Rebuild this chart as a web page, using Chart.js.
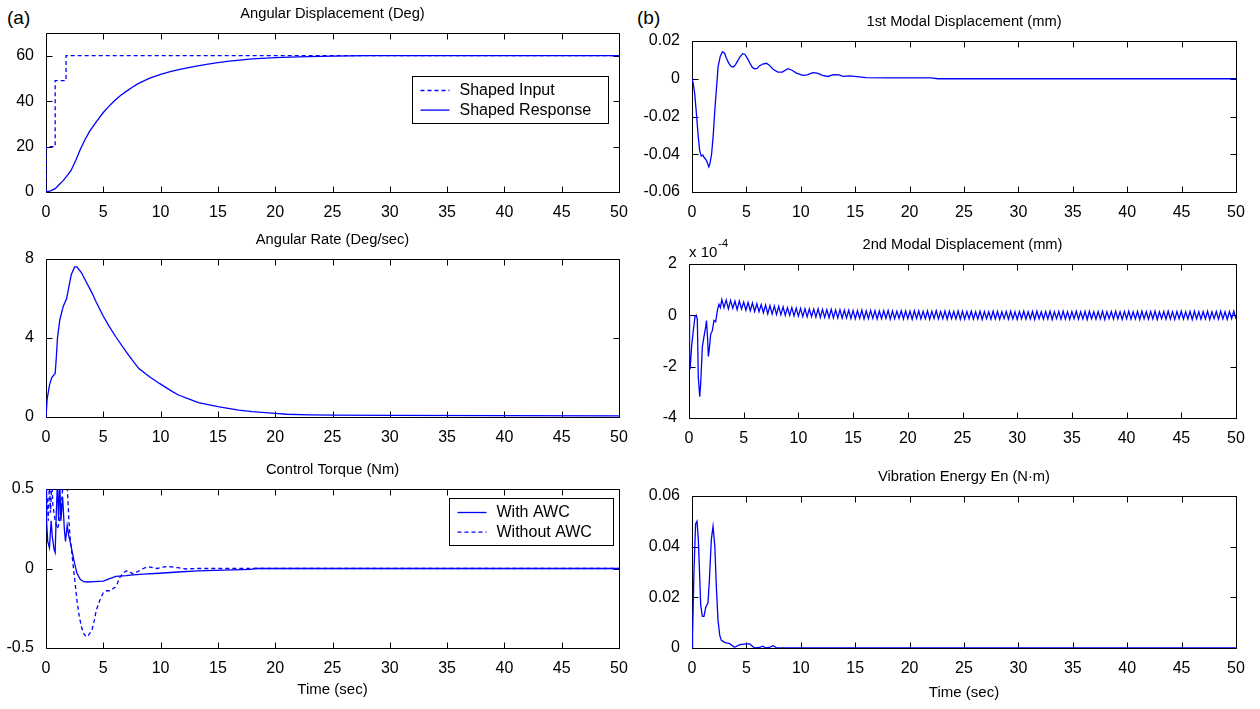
<!DOCTYPE html>
<html>
<head>
<meta charset="utf-8">
<title>Shaped response with and without AWC</title>
<script src="https://cdn.jsdelivr.net/npm/chart.js@4.4.0/dist/chart.umd.min.js"></script>
<style>
  body { margin: 0; background: #fff; width: 1260px; height: 709px; position: relative; overflow: hidden; font-family: "Liberation Sans", Arial, sans-serif; }
  canvas { position: absolute; }
  .tag { position: absolute; font-size: 19px; color: #000; line-height: 22px; }
</style>
</head>
<body>
<div class="tag" style="left:7px;top:7px">(a)</div>
<div class="tag" style="left:637px;top:7px">(b)</div>
<canvas id="dispChart"></canvas>
<canvas id="rateChart"></canvas>
<canvas id="torqueChart"></canvas>
<canvas id="modal1Chart"></canvas>
<canvas id="modal2Chart"></canvas>
<canvas id="energyChart"></canvas>
<script>
// Data
const timeTicks = [0, 5, 10, 15, 20, 25, 30, 35, 40, 45, 50];

// angular displacement (deg)
const dispTicks = [0, 20, 40, 60];
const inputT = [0, 0, 0.8, 0.8, 1.75, 1.75, 50];
const inputV = [0, 20, 20, 49, 49, 60, 60];
const respT = [0, 0.4, 0.8, 1.2, 1.5, 1.9, 2.2, 2.6, 3, 3.4, 3.8, 4.4, 5, 5.5, 6, 6.5, 7, 7.5, 8, 9, 10, 11, 12, 13, 14, 15, 16, 18, 20, 22, 25, 28, 50];
const respV = [0, 0.5, 1.5, 3.5, 5, 7.5, 9.6, 14, 18.8, 23, 26.7, 31, 35, 37.8, 40.3, 42.5, 44.3, 46, 47.6, 50, 51.8, 53.2, 54.3, 55.3, 56.2, 57, 57.6, 58.6, 59.2, 59.5, 59.8, 60, 60];

// angular rate (deg/sec)
const rateTicks = [0, 4, 8];
const rateT = [0, 0.1, 0.3, 0.5, 0.8, 0.9, 1.0, 1.2, 1.5, 1.8, 2.0, 2.2, 2.5, 2.7, 3.1, 3.5, 4.0, 4.4, 5.0, 5.5, 6.1, 7.0, 7.5, 8.1, 9.0, 9.9, 11, 11.6, 12.5, 13.3, 15, 16.8, 18, 20, 21, 23, 25, 30, 50];
const rateV = [0, 0.9, 1.6, 2.0, 2.2, 3.0, 4.0, 4.9, 5.6, 6.0, 6.6, 7.2, 7.6, 7.6, 7.3, 6.85, 6.3, 5.8, 5.1, 4.6, 4.05, 3.3, 2.9, 2.45, 2.05, 1.7, 1.3, 1.1, 0.9, 0.73, 0.52, 0.35, 0.27, 0.18, 0.14, 0.11, 0.1, 0.08, 0.06];

// control torque (Nm)
const torqueTicks = [-0.5, 0, 0.5];
const awcT = [0, 0.05, 0.15, 0.3, 0.45, 0.55, 0.7, 0.8, 0.9, 1.0, 1.1, 1.2, 1.3, 1.45, 1.6, 1.7, 1.85, 2.0, 2.1, 2.3, 2.5, 2.7, 3.0, 3.3, 3.6, 4.2, 5.0, 5.5, 6.1, 7.0, 7.6, 8.5, 9.9, 11.5, 13.3, 15.5, 17.9, 18.2, 50];
const awcV = [0.5, 0.3, 0.17, 0.13, 0.3, 0.2, 0.12, 0.1, 0.35, 0.55, 0.3, 0.55, 0.3, 0.45, 0.25, 0.17, 0.27, 0.2, 0.17, 0.1, 0.03, -0.03, -0.07, -0.083, -0.085, -0.082, -0.08, -0.065, -0.05, -0.045, -0.04, -0.035, -0.03, -0.022, -0.015, -0.01, -0.005, 0, 0];
const noAwcT = [0, 0.05, 0.1, 0.2, 0.3, 0.4, 0.5, 0.6, 0.8, 1.0, 1.2, 1.4, 1.5, 1.6, 1.8, 1.9, 2.0, 2.1, 2.25, 2.4, 2.7, 2.9, 3.1, 3.3, 3.5, 3.7, 4.0, 4.2, 4.4, 4.7, 5.0, 5.3, 5.6, 6.0, 6.2, 6.4, 6.7, 7.0, 7.3, 7.6, 8.0, 8.5, 8.9, 9.3, 9.7, 10.2, 10.6, 11.0, 11.5, 12.2, 13, 15, 18, 50];
const noAwcV = [0.55, 0.35, 0.45, 0.3, 0.55, 0.35, 0.55, 0.4, 0.3, 0.25, 0.3, 0.45, 0.55, 0.6, 0.55, 0.45, 0.3, 0.2, 0.1, 0.0, -0.2, -0.3, -0.37, -0.41, -0.43, -0.42, -0.39, -0.33, -0.26, -0.2, -0.15, -0.14, -0.14, -0.12, -0.1, -0.06, -0.03, -0.015, -0.02, -0.035, -0.02, 0, 0.012, 0.005, 0, 0.008, 0.012, 0.01, 0.005, -0.003, 0, 0, 0, 0];

// 1st modal displacement (mm)
const modal1Ticks = [-0.06, -0.04, -0.02, 0, 0.02];
const modal1T = [0, 0.1, 0.25, 0.4, 0.55, 0.7, 0.85, 1.0, 1.15, 1.3, 1.45, 1.55, 1.65, 1.8, 1.95, 2.1, 2.25, 2.4, 2.6, 2.8, 3.0, 3.15, 3.4, 3.6, 3.8, 4.0, 4.2, 4.4, 4.65, 4.85, 5.1, 5.3, 5.55, 5.75, 6.0, 6.2, 6.5, 6.85, 7.1, 7.45, 7.9, 8.3, 8.8, 9.2, 9.6, 10.2, 10.6, 11.1, 11.5, 12.0, 12.5, 13.0, 13.5, 13.9, 14.5, 16, 18, 22, 22.6, 50];
const modal1V = [0, -0.002, -0.008, -0.018, -0.029, -0.038, -0.041, -0.0405, -0.042, -0.043, -0.045, -0.0466, -0.045, -0.04, -0.03, -0.0165, -0.005, 0.0064, 0.012, 0.0143, 0.0135, 0.011, 0.008, 0.0065, 0.0062, 0.0075, 0.0095, 0.0115, 0.0133, 0.013, 0.0108, 0.0085, 0.006, 0.0053, 0.0055, 0.0068, 0.0078, 0.0082, 0.0072, 0.005, 0.0035, 0.0035, 0.0053, 0.0045, 0.003, 0.0018, 0.002, 0.0032, 0.003, 0.0018, 0.0012, 0.0022, 0.002, 0.0013, 0.0015, 0.0006, 0.0005, 0.0005, 0, 0];

// 2nd modal displacement (x 1e-4 mm)
const modal2Ticks = [-4, -2, 0, 2];
const modal2T = [0, 0.05, 0.1, 0.24, 0.4, 0.55, 0.67, 0.76, 0.85, 0.98, 1.07, 1.22, 1.37, 1.53, 1.6, 1.7, 1.77, 1.86, 1.98, 2.13, 2.28, 2.44, 2.6, 2.74, 2.87];
const modal2V = [0, -1.7, -2.1, -1.2, -0.57, -0.05, 0, -0.16, -2.4, -3.17, -2.65, -1.22, -0.83, -0.44, -0.2, -0.9, -1.6, -1.3, -0.74, -0.6, -0.2, -0.25, 0.2, 0.43, 0.3];
// ripple from t = 3.0 s, one reading every 0.2 s
const rippleStart = 3.0;
const rippleStep = 0.2;
const rippleV = [
  0.62, 0.3, 0.6, 0.25, 0.58, 0.28, 0.55, 0.22, 0.56, 0.25, 0.52,
  0.2, 0.5, 0.18, 0.48, 0.15, 0.45, 0.14, 0.42, 0.1, 0.4,
  0.06, 0.38, 0.05, 0.36, 0.03, 0.35, 0.02, 0.33, 0.0, 0.3, 0.0, 0.3, -0.02, 0.28, -0.03,
  0.27, -0.05, 0.26, -0.06, 0.25, -0.05, 0.24, -0.07, 0.25, -0.08, 0.23, -0.08, 0.22, -0.09, 0.23, -0.1, 0.21, -0.1, 0.22, -0.11, 0.2, -0.1, 0.2, -0.12, 0.19,
  -0.13, 0.18, -0.12, 0.2, -0.14, 0.17, -0.13, 0.19, -0.12, 0.18,
  -0.14, 0.17, -0.13, 0.18, -0.12, 0.19, -0.15, 0.17, -0.13, 0.16,
  -0.12, 0.18, -0.14, 0.17, -0.13, 0.16, -0.15, 0.18, -0.12, 0.17,
  -0.14, 0.16, -0.13, 0.17, -0.15, 0.16, -0.12, 0.18, -0.14, 0.15,
  -0.13, 0.17, -0.15, 0.16, -0.13, 0.15, -0.14, 0.17, -0.15, 0.16,
  -0.15, 0.15, -0.13, 0.16, -0.15, 0.14, -0.14, 0.16, -0.16, 0.15,
  -0.13, 0.14, -0.15, 0.16, -0.14, 0.15, -0.16, 0.14, -0.13, 0.15,
  -0.15, 0.16, -0.14, 0.14, -0.16, 0.15, -0.13, 0.16, -0.15, 0.14,
  -0.14, 0.15, -0.16, 0.16, -0.13, 0.14, -0.15, 0.15, -0.14, 0.16,
  -0.16, 0.14, -0.13, 0.15, -0.15, 0.16, -0.14, 0.14, -0.16, 0.15,
  -0.13, 0.16, -0.15, 0.14, -0.14, 0.15, -0.16, 0.16, -0.13, 0.14,
  -0.15, 0.15, -0.14, 0.16, -0.16, 0.14, -0.13, 0.15, -0.15, 0.16,
  -0.14, 0.14, -0.16, 0.15, -0.13, 0.16, -0.15, 0.14, -0.14, 0.15,
  -0.16, 0.16, -0.13, 0.14, -0.15, 0.15, -0.14, 0.16, -0.16, 0.14,
  -0.13, 0.15, -0.15, 0.16, -0.14, 0.14, -0.16, 0.15, -0.13, 0.16,
  -0.15, 0.14, -0.14, 0.15, -0.16, 0.16, -0.13, 0.14, -0.15, 0.15,
  -0.14, 0.16, -0.16, 0.14, -0.13, 0.15, -0.15, 0.16, -0.14, 0.14,
  -0.16, 0.15, -0.13, 0.16, -0.15
];

// vibration energy (N.m)
const energyTicks = [0, 0.02, 0.04, 0.06];
const energyT = [0, 0.05, 0.18, 0.33, 0.46, 0.58, 0.7, 0.8, 0.95, 1.1, 1.26, 1.47, 1.6, 1.78, 1.93, 2.1, 2.24, 2.39, 2.55, 2.7, 3.0, 3.15, 3.47, 3.9, 4.4, 5.0, 5.3, 5.75, 6.2, 6.5, 6.8, 7.1, 7.45, 7.8, 50];
const energyV = [0, 0.005, 0.03, 0.049, 0.05, 0.043, 0.029, 0.017, 0.0125, 0.0125, 0.016, 0.0178, 0.027, 0.043, 0.048, 0.04, 0.024, 0.011, 0.005, 0.003, 0.0022, 0.002, 0.0017, 0.0003, 0.0013, 0.0016, 0.0016, 0, 0.0002, 0.0007, 0, 0.0002, 0.0009, 0, 0];

// Helpers
const BLUE = "#0000ff";
const FONT = '"Liberation Sans", Arial, sans-serif';
const TITLE_SIZE = 14.7;
const TITLE_GAP = 10.3;
Chart.defaults.font.family = FONT;
Chart.defaults.color = "#000";

const pts = (t, v) => t.map((x, i) => ({ x: x, y: v[i] }));
const fmt = (v) => String(+v.toFixed(6));

function line(label, data, dashed) {
  return {
    label: label,
    data: data,
    borderColor: BLUE,
    backgroundColor: BLUE,
    borderWidth: 1.3,
    borderDash: dashed ? [4, 3] : [],
    pointRadius: 0,
    fill: false,
    tension: 0,
  };
}

// box, inward ticks, legend and exponent label like a MATLAB axes
const matlabAxes = {
  id: "matlabAxes",
  beforeDatasetsDraw(chart) {
    const { ctx, chartArea: a, scales } = chart;
    const L = Math.round(a.left) + 0.5, R = Math.round(a.right) + 0.5;
    const T = Math.round(a.top) + 0.5, B = Math.round(a.bottom) + 0.5;
    ctx.save();
    ctx.strokeStyle = "#000";
    ctx.lineWidth = 1;
    ctx.beginPath();
    scales.x.ticks.forEach((t) => {
      const px = Math.round(scales.x.getPixelForValue(t.value)) + 0.5;
      ctx.moveTo(px, B); ctx.lineTo(px, B - 6);
      ctx.moveTo(px, T); ctx.lineTo(px, T + 6);
    });
    scales.y.ticks.forEach((t) => {
      const py = Math.round(scales.y.getPixelForValue(t.value)) + 0.5;
      ctx.moveTo(L, py); ctx.lineTo(L + 6, py);
      ctx.moveTo(R, py); ctx.lineTo(R - 6, py);
    });
    ctx.rect(L, T, R - L, B - T);
    ctx.stroke();
    ctx.restore();
  },
  afterDraw(chart, args, opts) {
    const { ctx, chartArea: a } = chart;
    ctx.save();
    if (opts.legend) {
      const lg = opts.legend;
      const x0 = Math.round(a.right - lg.right - lg.width) + 0.5;
      const y0 = Math.round(a.top + lg.top) + 0.5;
      ctx.fillStyle = "#fff";
      ctx.fillRect(x0, y0, lg.width, lg.height);
      ctx.strokeStyle = "#000";
      ctx.lineWidth = 1;
      ctx.strokeRect(x0, y0, lg.width, lg.height);
      ctx.font = "16px " + FONT;
      ctx.textBaseline = "middle";
      chart.data.datasets.forEach((ds, i) => {
        const y = y0 + 14 + i * 19.6;
        ctx.strokeStyle = ds.borderColor;
        ctx.lineWidth = ds.borderWidth;
        ctx.setLineDash(ds.borderDash);
        ctx.beginPath();
        ctx.moveTo(x0 + 8, y);
        ctx.lineTo(x0 + 37, y);
        ctx.stroke();
        ctx.setLineDash([]);
        ctx.fillStyle = "#000";
        ctx.fillText(ds.label, x0 + 47, y);
      });
    }
    if (opts.exponent) {
      ctx.fillStyle = "#000";
      ctx.textBaseline = "middle";
      ctx.font = "15px " + FONT;
      ctx.fillText("x 10", a.left, a.top - 11);
      const w = ctx.measureText("x 10").width;
      ctx.font = "11px " + FONT;
      ctx.fillText(opts.exponent, a.left + w + 1, a.top - 20);
    }
    ctx.restore();
  },
};

// panel: canvas box and plot rectangle in page pixels
function panel(id, box, plot, title, yTicks, datasets, extra) {
  const canvas = document.getElementById(id);
  canvas.width = box.w;
  canvas.height = box.h;
  canvas.style.left = box.x + "px";
  canvas.style.top = box.y + "px";
  const xH = box.y + box.h - plot.bottom;
  const yW = plot.left - box.x;
  const xTitle = extra.xTitle;
  return new Chart(canvas, {
    type: "line",
    data: { datasets: datasets },
    plugins: [matlabAxes],
    options: {
      responsive: false,
      animation: false,
      devicePixelRatio: 1,
      layout: { padding: { top: plot.top - box.y - TITLE_SIZE * 1.2 - TITLE_GAP, right: box.x + box.w - plot.right, left: 0, bottom: 0 } },
      plugins: {
        legend: { display: false },
        tooltip: { enabled: false },
        title: { display: true, fullSize: false, text: title, color: "#000", font: { size: TITLE_SIZE, weight: "normal" }, padding: { top: 0, bottom: TITLE_GAP } },
        matlabAxes: { legend: extra.legend, exponent: extra.exponent },
      },
      scales: {
        x: {
          type: "linear",
          min: 0,
          max: 50,
          grid: { display: false, drawTicks: false },
          border: { display: false },
          ticks: { padding: 11, font: { size: 16 }, color: "#000", callback: fmt },
          afterBuildTicks: (s) => { s.ticks = timeTicks.map((v) => ({ value: v })); },
          afterFit: (s) => { s.height = xH; },
          title: xTitle
            ? { display: true, text: "Time (sec)", color: "#000", font: { size: 15 }, padding: { top: 0, bottom: xTitle } }
            : { display: false },
        },
        y: {
          type: "linear",
          min: extra.yMin,
          max: extra.yMax,
          grid: { display: false, drawTicks: false },
          border: { display: false },
          ticks: { padding: 12, font: { size: 16 }, color: "#000", callback: fmt },
          afterBuildTicks: (s) => { s.ticks = yTicks.map((v) => ({ value: v })); },
          afterFit: (s) => { s.width = yW; },
        },
      },
    },
  });
}

// Left column (a)
const dispChart = panel("dispChart", { x: 0, y: 3, w: 640, h: 219 }, { left: 46, top: 33, right: 619, bottom: 192 },
  "Angular Displacement (Deg)", dispTicks,
  [line("Shaped Input", pts(inputT, inputV), true), line("Shaped Response", pts(respT, respV), false)],
  { yMin: 0, yMax: 70, legend: { right: 10.7, top: 43, width: 196, height: 47 } });

const rateChart = panel("rateChart", { x: 0, y: 229, w: 640, h: 218 }, { left: 46, top: 259, right: 619, bottom: 417 },
  "Angular Rate (Deg/sec)", rateTicks,
  [line("Angular Rate", pts(rateT, rateV), false)],
  { yMin: 0, yMax: 8 });

const torqueChart = panel("torqueChart", { x: 0, y: 459, w: 640, h: 250 }, { left: 46, top: 489, right: 619, bottom: 648 },
  "Control Torque (Nm)", torqueTicks,
  [line("With AWC", pts(awcT, awcV), false), line("Without AWC", pts(noAwcT, noAwcV), true)],
  { yMin: -0.5, yMax: 0.5, xTitle: 10.6, legend: { right: 6.3, top: 8.7, width: 164, height: 47 } });

// Right column (b)
const modal1Chart = panel("modal1Chart", { x: 640, y: 11, w: 620, h: 211 }, { left: 692, top: 41, right: 1236, bottom: 192 },
  "1st Modal Displacement (mm)", modal1Ticks,
  [line("1st mode", pts(modal1T, modal1V), false)],
  { yMin: -0.06, yMax: 0.02 });

const rippleT = rippleV.map((v, i) => +(rippleStart + i * rippleStep).toFixed(2));
const modal2Chart = panel("modal2Chart", { x: 640, y: 234, w: 620, h: 214 }, { left: 689, top: 264, right: 1236, bottom: 418 },
  "2nd Modal Displacement (mm)", modal2Ticks,
  [line("2nd mode", pts(modal2T.concat(rippleT), modal2V.concat(rippleV)), false)],
  { yMin: -4, yMax: 2, exponent: "-4" });

const energyChart = panel("energyChart", { x: 640, y: 466, w: 620, h: 243 }, { left: 692, top: 496, right: 1236, bottom: 648 },
  "Vibration Energy En (N\u00b7m)", energyTicks,
  [line("Energy", pts(energyT, energyV), false)],
  { yMin: 0, yMax: 0.06, xTitle: 7.6 });
</script>
</body>
</html>
